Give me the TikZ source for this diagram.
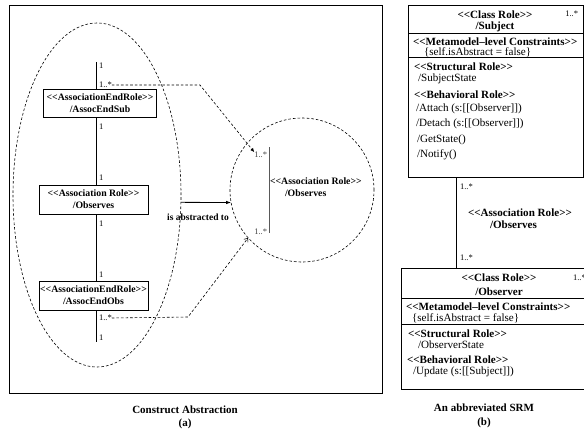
\documentclass[tikz,border=0pt]{standalone}
\usepackage{fontspec}
\setmainfont{Liberation Serif}[Ligatures=TeXOff]
\usetikzlibrary{arrows.meta,shapes.geometric}
\begin{document}
\begin{tikzpicture}[x=1pt,y=-1pt,
  every node/.style={inner sep=0pt, outer sep=0pt},
  lnk/.style={line width=0.8pt},
  rolebox/.style={draw, lnk, fill=white, align=center, font=\bfseries\fontsize{9.8}{12}\selectfont},
  mult/.style={anchor=west, font=\fontsize{8.5}{9}\selectfont},
  abst/.style={draw, dash pattern=on 2.6pt off 2pt, line width=0.6pt},
  lb/.style={font=\bfseries\fontsize{9.8}{12}\selectfont},
  rb/.style={font=\bfseries\fontsize{11.1}{12}\selectfont},
  rn/.style={font=\fontsize{11.1}{12}\selectfont},
  rbw/.style={rb, anchor=west},
  rnw/.style={rn, anchor=west},
  captxt/.style={font=\bfseries\fontsize{11}{13}\selectfont},
]
\useasboundingbox (0,0) rectangle (584,436);

% ---------- (a) construct abstraction ----------
\draw[lnk] (9,5) rectangle (382,393);

\node[ellipse, abst, minimum width=168pt, minimum height=344pt] (ell) at (97,195) {};

\node[rolebox, minimum width=113pt, minimum height=28pt] (es) at (100,103) {<<AssociationEndRole>>\\/AssocEndSub};
\node[rolebox, minimum width=109pt, minimum height=29pt] (ob) at (93.5,199.5) {<<Association Role>>\\/Observes};
\node[rolebox, minimum width=109pt, minimum height=29pt] (eo) at (93.5,295.5) {<<AssociationEndRole>>\\/AssocEndObs};

\coordinate (ltop) at (96,62);
\coordinate (lbot) at (96,342);
\draw[lnk] (ltop) -- (ltop |- es.north);
\draw[lnk] (es.south -| ltop) -- (ob.north -| ltop);
\draw[lnk] (ob.south -| ltop) -- (eo.north -| ltop);
\draw[lnk] (eo.south -| ltop) -- (lbot);

\node[mult] (m1) at (99,66) {1};
\node[mult] (m2) at (99,85) {1..*};
\node[mult] (m3) at (99,127) {1};
\node[mult] (m4) at (99,178) {1};
\node[mult] (m5) at (99,224) {1};
\node[mult] (m6) at (99,275) {1};
\node[mult] (m7) at (99,318) {1..*};
\node[mult] (m8) at (99,338) {1};

% abstracted association
\node[circle, abst, minimum size=144pt] (circ) at (302,190) {};
\coordinate (ct) at (269,147);
\coordinate (cb) at (269,233);
\draw[line width=1pt, black!65] (ct) -- (cb);
\node[mult, anchor=east, text=black!75] (c1) at (267,155) {1..*};
\node[mult, anchor=east, text=black!75] (c2) at (267,232) {1..*};
\node[lb, anchor=west] (cr) at (270,181) {<<Association Role>>};
\node[lb, anchor=west] (co) at (285,193) {/Observes};

\coordinate (tbend) at (200,85);
\coordinate (bbend) at (188,317);
\coordinate (cin) at (248,238);
\draw[abst, -{Latex[length=4pt,width=3.5pt]}] (m2.east) -- (tbend) -- (c1.north west);
\draw[abst, -{Straight Barb[length=3pt,width=5pt]}] (m7.east) -- (bbend) -- (cin);

\draw[lnk, -{Latex[length=5pt,width=3.5pt]}] (ell.-5) -- (circ.190);
\node[font=\bfseries\fontsize{9.5}{11}\selectfont] (isab) at (198,217) {is abstracted to};

\node[captxt] at (185,410) {Construct Abstraction};
\node[captxt] at (185,424) {(a)};

% ---------- (b) abbreviated SRM ----------
\node[draw, lnk, minimum width=175pt, minimum height=172pt] (subj) at (495.5,91) {};
\draw[lnk] (subj.west |- 0,33) -- (subj.east |- 0,33);
\draw[lnk] (subj.west |- 0,57) -- (subj.east |- 0,57);
\node[rb] at (495,15) {<<Class Role>>};
\node[rn, anchor=east, font=\fontsize{8.5}{10}\selectfont] at (578,14) {1..*};
\node[rb] at (495,27) {/Subject};
\node[rbw] at (413,41.5) {<<Metamodel–level Constraints>>};
\node[rnw] at (424,52.5) {\{self.isAbstract = false\}};
\node[rbw] at (414,67) {<<Structural Role>>};
\node[rnw] at (418,79) {/SubjectState};
\node[rbw] at (414,95) {<<Behavioral Role>>};
\node[rnw] at (416,109) {/Attach (s:[[Observer]])};
\node[rnw] at (416,124) {/Detach (s:[[Observer]])};
\node[rnw] at (417,140) {/GetState()};
\node[rnw] at (417,155) {/Notify()};

\node[draw, lnk, minimum width=196pt, minimum height=121pt] (obs) at (499,328.5) {};
\draw[lnk] (obs.west |- 0,298) -- (obs.east |- 0,298);
\draw[lnk] (obs.west |- 0,324) -- (obs.east |- 0,324);
\node[rb] at (499,278) {<<Class Role>>};
\node[rn, anchor=west, font=\fontsize{8.5}{10}\selectfont] at (573,278) {1..*};
\node[rb] at (499,292) {/Observer};
\node[rbw] at (406,307) {<<Metamodel–level Constraints>>};
\node[rnw] at (412,318) {\{self.isAbstract = false\}};
\node[rbw] at (408,334) {<<Structural Role>>};
\node[rnw] at (418,345) {/ObserverState};
\node[rbw] at (407,360) {<<Behavioral Role>>};
\node[rnw] at (413,372) {/Update (s:[[Subject]])};

\coordinate (ax) at (456,0);
\draw[lnk] (subj.south -| ax) -- (obs.north -| ax);
\node[mult] (s1) at (460,187) {1..*};
\node[mult] (s2) at (460,258) {1..*};
\node[rbw] (sa) at (468,213) {<<Association Role>>};
\node[rbw] (so) at (490,225) {/Observes};

\node[captxt] at (484,408) {An abbreviated SRM};
\node[captxt] at (484,423) {(b)};
\end{tikzpicture}
\end{document}
